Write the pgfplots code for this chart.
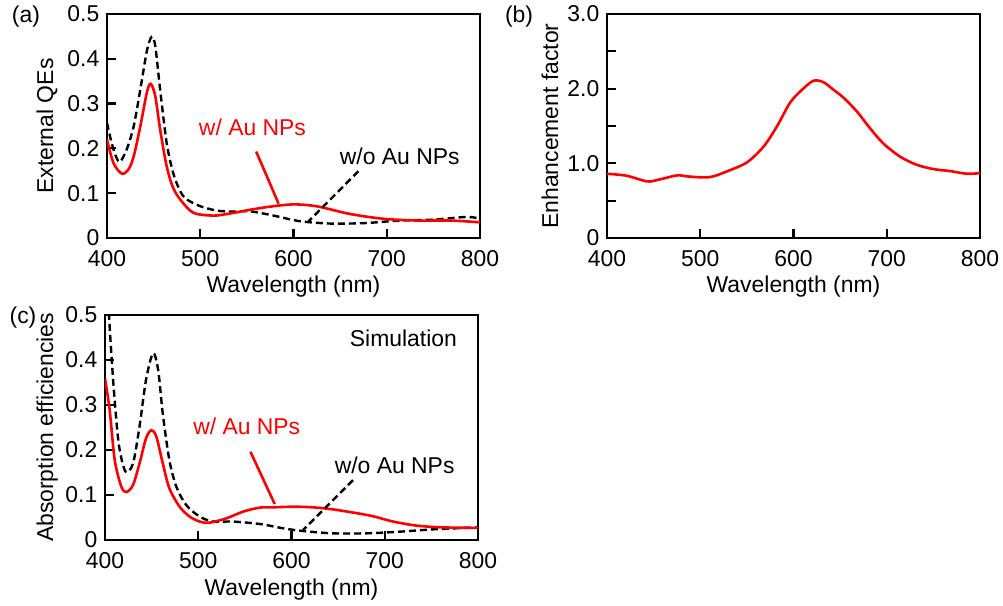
\documentclass[border=0pt]{standalone}
\usepackage{fontspec}
\setmainfont{Liberation Sans}
\usepackage{pgfplots}
\pgfplotsset{compat=1.18}

\pgfplotsset{
  panel/.style={
    scale only axis, width=373bp, height=224bp,
    xmin=400, xmax=800, xtick={400,500,...,800},
    tick align=inside, tick pos=left,
    major tick length=9bp, minor tick length=9bp,
    every tick/.style={black, line width=2.2bp},
    axis line style={line width=2.4bp},
    font=\fontsize{23}{27}\selectfont,
    /pgf/number format/assume math mode=true,
    xlabel={Wavelength (nm)},
    xlabel style={at={(axis description cs:0.5,-0.219)}, anchor=center},
    xticklabel style={inner sep=1bp, yshift=-11.5bp},
    yticklabel style={inner sep=1bp, xshift=-6.5bp,
      /pgf/number format/fixed, /pgf/number format/precision=1},
  },
  redline/.style={red, line width=2.6bp, smooth},
  dashline/.style={black, line width=2.4bp, dash pattern=on 7bp off 4bp, smooth},
}

\begin{document}
\begin{tikzpicture}
\path[use as bounding box] (0,0) rectangle (1003bp,606bp);

% (a) measured QE
\begin{axis}[panel, at={(107bp,368bp)}, anchor=south west,
  ymin=0, ymax=0.5, ytick={0,0.1,...,0.5},
  ylabel={External QEs},
  ylabel style={at={(axis description cs:-0.161,0.5)}, anchor=center}]
\addplot[dashline] coordinates {
 (400,0.257) (405,0.212) (410,0.180) (414,0.170) (421,0.197) (428.6,0.249)
 (435.7,0.331) (443,0.420) (448,0.449) (451.8,0.428) (457,0.331) (464,0.212)
 (471,0.145) (478.6,0.104) (485.7,0.086) (500,0.071) (518,0.061) (535,0.059)
 (553.6,0.0595) (578.6,0.050) (600,0.040) (614,0.0357) (643,0.032)
 (678.6,0.0335) (714,0.039) (750,0.041) (786,0.047) (800,0.043)};
\addplot[redline] coordinates {
 (400,0.2195) (407,0.167) (416,0.1436) (423,0.153) (428.6,0.182) (435.7,0.249)
 (443,0.327) (447,0.344) (451.8,0.316) (457,0.242) (464,0.160) (471,0.1116)
 (480,0.082) (493,0.056) (514,0.050) (530,0.054) (553.6,0.063) (575,0.070)
 (600,0.075) (625,0.0707) (660.7,0.0536) (696,0.043) (732,0.039) (768,0.039)
 (800,0.035)};
\node[red] at (axis cs:556,0.248) {w/ Au NPs};
\draw[red, line width=2.6bp] (axis cs:560,0.193) -- (axis cs:584,0.0766);
\node at (axis cs:714,0.182) {w/o Au NPs};
\draw[black, line width=2.4bp, dash pattern=on 7bp off 4bp] (axis cs:669.6,0.149) -- (axis cs:616,0.037);
\end{axis}

% (b) enhancement factor
\begin{axis}[panel, at={(607bp,368bp)}, anchor=south west,
  ymin=0, ymax=3, ytick={0,1,2,3}, yticklabels={0,1.0,2.0,3.0},
  minor ytick={0.5,1.5,2.5},
  ylabel={Enhancement factor},
  ylabel style={at={(axis description cs:-0.153,0.5)}, anchor=center}]
\addplot[redline] coordinates {
 (400,0.860) (421,0.834) (443,0.758) (455,0.780) (475,0.838) (486,0.825)
 (503.6,0.811) (514,0.825) (528.6,0.892) (550,1.012) (568,1.226) (582,1.49)
 (596,1.806) (607,1.96) (621,2.104) (632,2.087) (643,1.984) (653.6,1.88)
 (668,1.694) (682,1.471) (696,1.27) (714,1.092) (732,0.981) (750,0.923)
 (768,0.896) (786,0.860) (800,0.869)};
\end{axis}

% (c) simulation
\begin{axis}[panel, at={(105bp,66bp)}, anchor=south west, height=225bp,
  ymin=0, ymax=0.5, ytick={0,0.1,...,0.5},
  ylabel={Absorption efficiencies},
  ylabel style={at={(axis description cs:-0.155,0.5)}, anchor=center}]
\addplot[dashline] coordinates {
 (400,0.70) (403,0.55) (406,0.44) (410,0.32) (415,0.21) (422,0.152)
 (430,0.170) (437,0.252) (444,0.356) (451.5,0.415) (457,0.378) (462,0.280)
 (469,0.178) (476.5,0.1185) (487,0.078) (501.5,0.052) (516,0.041) (537,0.041)
 (566,0.0356) (591,0.026) (612,0.020) (644.5,0.0148) (680,0.0148)
 (716,0.0185) (752,0.0237) (800,0.028)};
\addplot[redline] coordinates {
 (400,0.359) (405,0.289) (410.4,0.178) (417.5,0.1185) (423,0.1067) (430,0.122)
 (437,0.170) (444,0.226) (449.7,0.244) (455,0.230) (462,0.170) (469,0.115)
 (480,0.074) (490.8,0.052) (501.5,0.041) (512,0.0385) (530,0.048) (548,0.063)
 (566,0.072) (580,0.0726) (601.6,0.074) (623,0.0726) (644.5,0.068) (666,0.061)
 (687,0.053) (709,0.041) (734,0.032) (762.5,0.028) (800,0.027)};
\node at (axis cs:720,0.448) {Simulation};
\node[red] at (axis cs:552,0.252) {w/ Au NPs};
\draw[red, line width=2.6bp] (axis cs:556,0.196) -- (axis cs:582,0.080);
\node at (axis cs:710.6,0.1667) {w/o Au NPs};
\draw[black, line width=2.4bp, dash pattern=on 7bp off 4bp] (axis cs:666,0.133) -- (axis cs:612.3,0.022);
\end{axis}

\node[font=\fontsize{23}{27}\selectfont] at (26bp,589bp) {(a)};
\node[font=\fontsize{23}{27}\selectfont] at (519bp,589bp) {(b)};
\node[font=\fontsize{23}{27}\selectfont] at (23bp,288bp) {(c)};
\end{tikzpicture}
\end{document}
